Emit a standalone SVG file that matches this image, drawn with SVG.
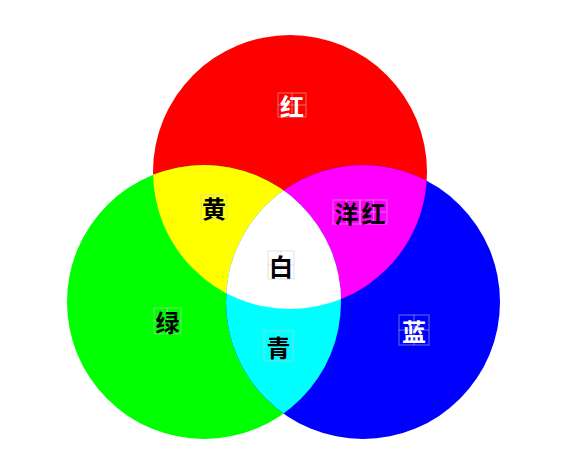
<svg xmlns="http://www.w3.org/2000/svg" width="565" height="475" viewBox="0 0 565 475">
<style>
.lb{font-family:"Noto Sans CJK SC","Noto Sans CJK JP",sans-serif;font-size:24px;font-weight:bold;text-anchor:middle;dominant-baseline:central}
.w{fill:#fff}.k{fill:#000}
.cell{fill:none;stroke:#c8c8c8;stroke-opacity:0.55;stroke-width:1}
</style>
<defs>
<clipPath id="cR"><circle cx="290" cy="172" r="137"/></clipPath>
<clipPath id="cG"><circle cx="204" cy="302" r="137"/></clipPath>
<clipPath id="cB"><circle cx="363" cy="302" r="137"/></clipPath>
</defs>
<rect width="565" height="475" fill="#fff"/>
<g id="red"><circle cx="290" cy="172" r="137" fill="#f00"/></g>
<g id="green"><circle cx="204" cy="302" r="137" fill="#0f0"/></g>
<g id="blue"><circle cx="363" cy="302" r="137" fill="#00f"/></g>
<g id="yellow" clip-path="url(#cR)"><circle cx="204" cy="302" r="137" fill="#ff0"/></g>
<g id="magenta" clip-path="url(#cR)"><circle cx="363" cy="302" r="137" fill="#f0f"/></g>
<g id="cyan" clip-path="url(#cG)"><circle cx="363" cy="302" r="137" fill="#0ff"/></g>
<g id="white" clip-path="url(#cR)"><g clip-path="url(#cG)"><circle cx="363" cy="302" r="137" fill="#fff"/></g></g>
<g id="labels">
<g id="l-red"><rect class="cell" x="278" y="93" width="28" height="24"/><path class="cell" d="M292 93V117M278 105H306"/><text class="lb w" x="292" y="105">红</text></g>
<g id="l-yellow"><rect class="cell" x="201" y="195" width="26" height="24"/><path class="cell" d="M214 195V219M201 207H227"/><text class="lb k" x="214" y="207">黄</text></g>
<g id="l-magenta"><rect class="cell" x="333" y="200" width="27" height="24"/><rect class="cell" x="360" y="200" width="27" height="24"/><path class="cell" d="M346.5 200V224M373.5 200V224M333 212H387"/><text class="lb k" x="346.5" y="212">洋</text><text class="lb k" x="373.5" y="212">红</text></g>
<g id="l-white"><rect class="cell" x="268" y="251" width="26" height="28"/><path class="cell" d="M281 251V279M268 265H294"/><text class="lb k" x="281" y="265">白</text></g>
<g id="l-green"><rect class="cell" x="154" y="308" width="27" height="26"/><path class="cell" d="M167.5 308V334M154 321H181"/><text class="lb k" x="167.5" y="321">绿</text></g>
<g id="l-cyan"><rect class="cell" x="264" y="331" width="29" height="30"/><path class="cell" d="M278.5 331V361M264 346H293"/><text class="lb k" x="278.5" y="346">青</text></g>
<g id="l-blue"><rect class="cell" x="399" y="315" width="30" height="30"/><path class="cell" d="M414 315V345M399 330H429"/><text class="lb w" x="414" y="330">蓝</text></g>
</g>
</svg>
